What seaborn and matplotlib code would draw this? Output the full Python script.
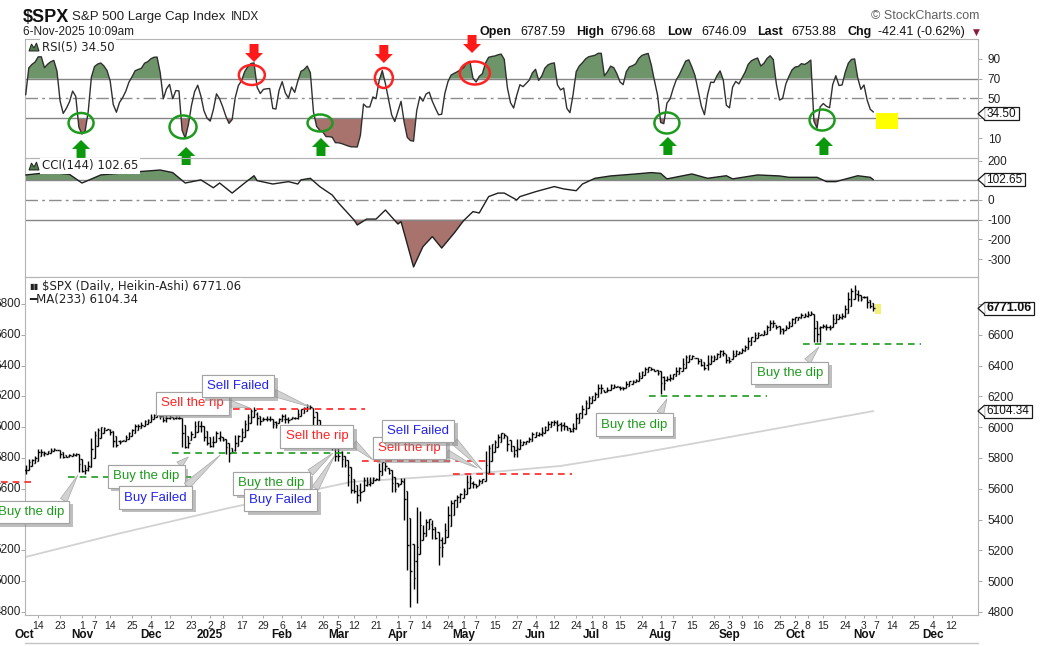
import numpy as np
import pandas as pd
import matplotlib
matplotlib.use("Agg")
import matplotlib.pyplot as plt
import seaborn as sns
from matplotlib.patches import Ellipse, Polygon, Rectangle
from matplotlib.transforms import IdentityTransform, blended_transform_factory
from matplotlib.lines import Line2D
import matplotlib.patheffects as pe

# ------------------------------------------------------------------ data
holidays = ["2024-11-28", "2024-12-25", "2025-01-01", "2025-01-09", "2025-01-20",
            "2025-02-17", "2025-04-18", "2025-05-26", "2025-06-19", "2025-07-04",
            "2025-09-01", "2025-11-27", "2025-12-25"]

# closes before the first visible bar (used only to warm up RSI / Heikin-Ashi)
warmup_closes = [5713.64, 5702.55, 5718.57, 5732.93, 5722.26, 5745.37, 5738.17,
                 5762.48, 5708.75, 5709.54, 5699.94, 5751.07, 5695.94]

c_2024_10 = [5751.13, 5792.04, 5780.05, 5815.03, 5859.85, 5815.26, 5842.47, 5841.47, 5864.67,
             5853.98, 5851.20, 5797.42, 5809.86, 5808.12, 5823.52, 5832.92, 5813.67, 5705.45]
c_2024_11 = [5728.80, 5712.69, 5782.76, 5929.04, 5973.10, 5995.54, 6001.35, 5983.99, 5985.38,
             5949.17, 5870.62, 5893.62, 5916.98, 5917.11, 5948.71, 5969.34, 5987.37, 6021.63,
             5998.74, 6032.38]
c_2024_12 = [6047.15, 6049.88, 6086.49, 6075.11, 6090.27, 6052.85, 6034.91, 6084.19, 6051.25,
             6051.09, 6074.08, 6050.61, 5872.16, 5867.08, 5930.85, 5974.07, 6040.04, 6037.59,
             5970.84, 5906.94, 5881.63]
c_2025_01 = [5868.55, 5942.47, 5975.38, 5909.03, 5918.25, 5827.04, 5836.22, 5842.91, 5949.91,
             5937.34, 5996.66, 6049.24, 6086.37, 6118.71, 6101.24, 6012.28, 6067.70, 6039.31,
             6071.17, 6040.53]
c_2025_02 = [5994.57, 6037.88, 6061.48, 6083.57, 6025.99, 6066.44, 6068.50, 6051.97, 6115.07,
             6114.63, 6129.58, 6144.15, 6117.52, 6013.13, 5983.25, 5955.25, 5956.06, 5861.57,
             5954.50]
c_2025_03 = [5849.72, 5778.15, 5842.63, 5738.52, 5770.20, 5614.56, 5572.07, 5599.30, 5521.52,
             5638.94, 5675.12, 5614.66, 5675.29, 5662.89, 5667.56, 5767.57, 5776.65, 5712.20,
             5693.31, 5580.94, 5611.85]
c_2025_04 = [5633.07, 5670.97, 5396.52, 5074.08, 5062.25, 4982.77, 5456.90, 5268.05, 5363.36,
             5405.97, 5396.63, 5275.70, 5282.70, 5158.20, 5287.76, 5375.86, 5484.77, 5525.21,
             5528.75, 5560.83, 5569.06]
c_2025_05 = [5604.14, 5686.67, 5650.38, 5606.91, 5631.28, 5663.94, 5659.91, 5844.19, 5886.55,
             5892.58, 5916.93, 5958.38, 5963.60, 5940.46, 5844.61, 5842.01, 5802.82, 5921.54,
             5888.55, 5912.17, 5911.69]
c_2025_06 = [5935.94, 5970.37, 5970.81, 5939.30, 6000.36, 6005.88, 6038.81, 6022.24, 6045.26,
             5976.97, 6033.11, 5982.72, 5980.87, 5967.84, 6025.17, 6092.18, 6092.16, 6141.02,
             6173.07, 6204.95]
c_2025_07 = [6198.01, 6227.42, 6279.35, 6229.98, 6225.52, 6263.26, 6280.46, 6259.75, 6268.56,
             6243.76, 6263.70, 6297.36, 6296.79, 6305.60, 6309.62, 6358.91, 6363.35, 6388.64,
             6389.77, 6370.86, 6362.90, 6339.39]
c_2025_08 = [6238.01, 6329.94, 6299.19, 6345.06, 6340.00, 6389.45, 6373.45, 6445.76, 6466.58,
             6468.54, 6449.80, 6449.15, 6411.37, 6395.78, 6370.17, 6466.91, 6439.32, 6465.94,
             6481.40, 6501.86, 6460.26]
c_2025_09 = [6415.54, 6448.26, 6502.08, 6481.50, 6495.15, 6512.61, 6532.04, 6587.47, 6584.29,
             6615.28, 6606.76, 6600.35, 6631.96, 6664.36, 6693.75, 6656.92, 6637.97, 6604.72,
             6643.70, 6661.21, 6688.46]
c_2025_10 = [6711.20, 6715.35, 6715.79, 6740.28, 6714.59, 6753.72, 6735.11, 6552.51, 6654.72,
             6644.31, 6671.06, 6629.07, 6664.01, 6735.13, 6735.35, 6699.40, 6738.44, 6791.69,
             6875.16, 6890.89, 6890.59, 6822.34, 6840.20]
c_2025_11 = [6851.97, 6771.55, 6796.29, 6753.88]

wick_lows = {"2024-11-04": 5696.5, "2025-01-13": 5773.3, "2025-03-13": 5504.7,
             "2025-04-07": 4835.0, "2025-04-08": 4948.0, "2025-04-09": 4856.6,
             "2025-04-21": 5101.6, "2025-08-01": 6212.7, "2025-10-10": 6550.8,
             "2025-10-14": 6552.1}
wick_highs = {"2025-01-24": 6128.2, "2025-02-19": 6147.4, "2025-04-09": 5481.3,
              "2025-10-28": 6902.0, "2025-10-29": 6920.3}

cci_dates = ["2024-10-08", "2024-10-18", "2024-10-28", "2024-11-01", "2024-11-11", "2024-11-22",
             "2024-12-09", "2024-12-13", "2024-12-19", "2024-12-27", "2025-01-03", "2025-01-07",
             "2025-01-14", "2025-01-21", "2025-01-24", "2025-01-27", "2025-02-03", "2025-02-10",
             "2025-02-13", "2025-02-14", "2025-02-20", "2025-02-25", "2025-03-03", "2025-03-05",
             "2025-03-12", "2025-03-13", "2025-03-18", "2025-03-21", "2025-03-26", "2025-04-01",
             "2025-04-02", "2025-04-08", "2025-04-11", "2025-04-16", "2025-04-22", "2025-04-28",
             "2025-05-01", "2025-05-06", "2025-05-08", "2025-05-13", "2025-05-16", "2025-05-20",
             "2025-05-27", "2025-05-28", "2025-06-04", "2025-06-12", "2025-06-17", "2025-06-24",
             "2025-06-26", "2025-07-02", "2025-07-10", "2025-07-16", "2025-07-22", "2025-07-29",
             "2025-08-01", "2025-08-05", "2025-08-15", "2025-08-22", "2025-09-02", "2025-09-04",
             "2025-09-16", "2025-09-25", "2025-09-30", "2025-10-13", "2025-10-16", "2025-10-21",
             "2025-10-30", "2025-11-05", "2025-11-06"]
cci_values = [127, 140, 130, 86, 127, 140, 152, 139, 86, 102, 62, 86, 35, 86, 123, 98,
              81, 93, 81, 102, 110, 68, 25, -15, -102, -127, -97, -97, -51, -122, -110,
              -340, -237, -186, -244, -168, -105, -59, -66, 17, 35, 35, 0, 17, 42, 68, 56,
              47, 81, 110, 122, 127, 132, 139, 135, 107, 132, 110, 123, 107, 127, 122, 115,
              115, 93, 93, 123, 115, 102.65]

ma_dates = ["2024-10-08", "2024-11-19", "2025-01-13", "2025-03-11", "2025-04-30",
            "2025-06-16", "2025-07-18", "2025-09-10", "2025-11-06"]
ma_values = [5157, 5310, 5475, 5644, 5690, 5748, 5819, 5954, 6104.34]

day_ticks = ["2024-10-14", "2024-10-23", "2024-11-01", "2024-11-07", "2024-11-14", "2024-11-25",
             "2024-12-04", "2024-12-12", "2024-12-23", "2025-01-02", "2025-01-08", "2025-01-17",
             "2025-01-29", "2025-02-06", "2025-02-14", "2025-02-26", "2025-03-05", "2025-03-12",
             "2025-03-21", "2025-04-01", "2025-04-07", "2025-04-14", "2025-04-24", "2025-05-01",
             "2025-05-07", "2025-05-15", "2025-05-27", "2025-06-04", "2025-06-12", "2025-06-24",
             "2025-07-01", "2025-07-08", "2025-07-15", "2025-07-24", "2025-08-01", "2025-08-07",
             "2025-08-15", "2025-08-26", "2025-09-03", "2025-09-09", "2025-09-16", "2025-09-25",
             "2025-10-02", "2025-10-08", "2025-10-15", "2025-10-24", "2025-11-03", "2025-11-07",
             "2025-11-14", "2025-11-25", "2025-12-04", "2025-12-12"]
month_names = {1: "2025", 2: "Feb", 3: "Mar", 4: "Apr", 5: "May", 6: "Jun", 7: "Jul",
               8: "Aug", 9: "Sep", 10: "Oct", 11: "Nov", 12: "Dec"}

rsi_levels = [10, 30, 50, 70, 90]
cci_levels = [200, 100, 0, -100, -200, -300]
price_levels = [4800, 5000, 5200, 5400, 5600, 5800, 6000, 6200, 6400, 6600, 6800]

# ------------------------------------------------------------------ styling
GREEN_F, RED_F = "#6e956a", "#a8726d"
GREEN_T, RED_T, BLUE_T = "#1e9b1e", "#ff2222", "#2424ee"
sns.set_theme(style="white")
plt.rcParams["font.family"] = ["Liberation Sans", "DejaVu Sans"]
plt.rcParams["axes.unicode_minus"] = False

W, H = 1052, 646
L, R = 25, 978
fig = plt.figure(figsize=(W / 100, H / 100), dpi=100)
fig.patch.set_facecolor("white")
ID = IdentityTransform()


def panel(top, bottom):
    ax = fig.add_axes([L / W, 1 - bottom / H, (R - L) / W, (bottom - top) / H])
    ax.set_facecolor("none")
    return ax


ax_r = panel(39, 158)
ax_c = panel(158, 277)
ax_p = panel(277, 615)
XLIM = (-0.22, 304.45)

# ------------------------------------------------------------------ calendar
dates = pd.bdate_range("2024-10-08", "2025-11-06", freq="C", holidays=holidays)
future = pd.bdate_range("2025-11-07", "2025-12-31", freq="C", holidays=holidays)
calendar = dates.append(future)
pos = {d.strftime("%Y-%m-%d"): i for i, d in enumerate(calendar)}

closes = (c_2024_10 + c_2024_11 + c_2024_12 + c_2025_01 + c_2025_02 + c_2025_03 + c_2025_04 +
          c_2025_05 + c_2025_06 + c_2025_07 + c_2025_08 + c_2025_09 + c_2025_10 + c_2025_11)
n = min(len(closes), len(dates))
closes = closes[:n]
x = np.arange(n, dtype=float)

allc = np.array(warmup_closes + closes, dtype=float)
nw = len(warmup_closes)
c = allc[nw:]
pc = allc[nw - 1:-1]

# Heikin-Ashi bars (open of a day ~ previous close)
ha_all = (allc[:-1] + allc[1:]) / 2.0          # HA close for every day after the first
ha_c = ha_all[-n:]
ha_o = np.empty_like(ha_c)
ha_o[0] = (ha_all[-n - 2] + ha_all[-n - 1]) / 2.0
for k in range(1, n):
    ha_o[k] = (ha_o[k - 1] + ha_c[k - 1]) / 2.0
ha_h = np.maximum.reduce([ha_o, ha_c, pc, c])
ha_l = np.minimum.reduce([ha_o, ha_c, pc, c])
for d, v in wick_lows.items():
    ha_l[pos[d]] = min(ha_l[pos[d]], v)
for d, v in wick_highs.items():
    ha_h[pos[d]] = max(ha_h[pos[d]], v)

# RSI(5) on the Heikin-Ashi closes, Wilder smoothing
dlt = np.diff(ha_all)
gain, loss = np.clip(dlt, 0, None), np.clip(-dlt, 0, None)
ag, al = gain[:5].mean(), loss[:5].mean()
rsi_all = []
for k in range(5, len(dlt)):
    ag = (ag * 4 + gain[k]) / 5
    al = (al * 4 + loss[k]) / 5
    rsi_all.append(100 - 100 / (1 + ag / al) if al > 0 else 100.0)
rsi = np.array(rsi_all)[-n:]

# ------------------------------------------------------------------ RSI panel
ax_r.set_xlim(*XLIM)
ax_r.set_ylim(-10, 110)
ax_r.fill_between(x, rsi, 70, where=rsi >= 70, interpolate=True, color=GREEN_F, lw=0, zorder=1)
ax_r.fill_between(x, rsi, 30, where=rsi <= 30, interpolate=True, color=RED_F, lw=0, zorder=1)
for lv in (70, 30):
    ax_r.axhline(lv, color="#858585", lw=1.0, zorder=2)
ax_r.axhline(50, color="#8c8c8c", lw=1.0, dashes=(9, 3, 2, 3), zorder=2)
sns.lineplot(x=x, y=rsi, ax=ax_r, color="#303030", linewidth=1.0, zorder=3)
ax_r.set_yticks(rsi_levels)
ax_r.set_yticklabels(["" if v == 30 else str(v) for v in rsi_levels])

# ------------------------------------------------------------------ CCI panel
cx = np.array([pos[d] for d in cci_dates], dtype=float)
cv = np.array(cci_values, dtype=float)
ax_c.set_xlim(*XLIM)
ax_c.set_ylim(-391, 213)
ax_c.fill_between(cx, cv, 100, where=cv >= 100, interpolate=True, color=GREEN_F, lw=0, zorder=1)
ax_c.fill_between(cx, cv, -100, where=cv <= -100, interpolate=True, color=RED_F, lw=0, zorder=1)
for lv in (100, -100):
    ax_c.axhline(lv, color="#858585", lw=1.0, zorder=2)
ax_c.axhline(0, color="#8c8c8c", lw=1.0, dashes=(9, 3, 2, 3), zorder=2)
sns.lineplot(x=cx, y=cv, ax=ax_c, color="#202020", linewidth=1.0, zorder=3)
ax_c.set_yticks(cci_levels)
ax_c.set_yticklabels(["" if v == 100 else str(v) for v in cci_levels])

# ------------------------------------------------------------------ price panel
ax_p.set_xlim(*XLIM)
ax_p.set_ylim(4780, 6975)
mx = np.array([pos[d] for d in ma_dates], dtype=float)
sns.lineplot(x=mx, y=ma_values, ax=ax_p, color="#d2d2d2", linewidth=1.3, zorder=1)
# highlight of the latest bar
ax_p.add_patch(Rectangle((n - 0.6, 6735), 1.9, 65, color="#f3f07a", lw=0, zorder=1.5))
ax_p.vlines(x, ha_l, ha_h, color="black", lw=1.0, zorder=3)
ax_p.hlines(ha_o, x - 0.5, x, color="black", lw=1.0, zorder=3)
ax_p.hlines(ha_c, x, x + 0.5, color="black", lw=1.0, zorder=3)
ax_p.set_yticks(price_levels)
ax_p.set_yticklabels(["" if v == 6800 else str(v) for v in price_levels])

# dashed support / resistance lines (start, end in trading-day positions, price, colour)
levels = [(-8.0, 2.0, 5645, RED_T), (13.6, 53.2, 5679, GREEN_T), (46.8, 103.7, 5830, GREEN_T),
          (66.3, 108.5, 6117, RED_T), (107.5, 147.5, 5781, RED_T), (136.6, 174.6, 5696, RED_T),
          (199.3, 237.0, 6203, GREEN_T), (248.5, 286.2, 6540, GREEN_T)]
for x0, x1, yv, col in levels:
    ax_p.plot([x0, x1], [yv, yv], color=col, lw=1.2, dashes=(4, 3), zorder=4, clip_on=False)

# callouts: text, colour, box centre, target, tail anchor on box
callouts = [
    ("Buy the dip", GREEN_T, (1.6, 5449), (16.7, 5690), (0.95, 1.0)),
    ("Buy the dip", GREEN_T, (38.5, 5680), (52.0, 5806), (0.9, 1.0)),
    ("Buy Failed", BLUE_T, (41.5, 5543), (62.2, 5819), (0.9, 1.0)),
    ("Sell the rip", RED_T, (53.2, 6154), (71.7, 6125), (1.0, 0.6)),
    ("Sell Failed", BLUE_T, (67.9, 6267), (90.9, 6131), (1.0, 0.1)),
    ("Sell the rip", RED_T, (93.1, 5940), (111.0, 5787), (1.0, 0.3)),
    ("Buy the dip", GREEN_T, (78.6, 5634), (98.2, 5832), (1.0, 1.0)),
    ("Buy Failed", BLUE_T, (81.5, 5527), (98.9, 5819), (1.0, 1.0)),
    ("Sell the rip", RED_T, (122.8, 5865), (144.3, 5735), (1.0, 0.3)),
    ("Sell Failed", BLUE_T, (125.4, 5975), (145.9, 5722), (1.0, 0.1)),
    ("Buy the dip", GREEN_T, (194.6, 6017), (205.0, 6183), (0.85, 1.0)),
    ("Buy the dip", GREEN_T, (244.3, 6352), (253.6, 6521), (0.7, 1.0)),
]
for k, (txt, col, (bx, by), (tx, ty), rel) in enumerate(callouts):
    ann = ax_p.annotate(
        txt, xy=(tx, ty), xytext=(bx, by), textcoords="data", ha="center", va="center",
        fontsize=9.5, color=col, zorder=10 + k, annotation_clip=False,
        bbox=dict(boxstyle="square,pad=0.4", fc="white", ec="#a3a3a3", lw=0.8),
        arrowprops=dict(arrowstyle="wedge,tail_width=0.55,shrink_factor=0.5",
                        fc="#d2d2d2", ec="#a8a8a8", lw=0.5, shrinkA=0, shrinkB=0,
                        relpos=rel))
    ann.get_bbox_patch().set_path_effects(
        [pe.withSimplePatchShadow(offset=(2.5, -2.5), shadow_rgbFace="#8a8a8a", alpha=0.55),
         pe.Normal()])

# ------------------------------------------------------------------ axes cosmetics
for ax in (ax_r, ax_c, ax_p):
    ax.set_xlabel("")
    ax.set_ylabel("")
    for s in ax.spines.values():
        s.set_color("#b4b4b4")
        s.set_linewidth(0.8)
    ax.tick_params(axis="y", which="major", left=False, right=True, labelleft=False,
                   labelright=True, direction="out", length=3, width=0.6, color="#9a9a9a",
                   labelsize=8.5, labelcolor="#222222", pad=4)
ax_r.set_xticks([])
ax_c.set_xticks([])
ax_p.tick_params(axis="y", left=True)
# left-hand price labels (the 5400 one sits under the first callout box, as in the original)
for v in price_levels:
    if v == 5400:
        continue
    ax_p.annotate(f"{v}", xy=(0, v), xycoords=("axes fraction", "data"), xytext=(-4, 0),
                  textcoords="offset pixels", ha="right", va="center", fontsize=8.5,
                  color="#222222", annotation_clip=False)

tick_pos = [pos[d] for d in day_ticks]
ax_p.set_xticks(tick_pos)
ax_p.set_xticklabels([str(int(d[-2:])) for d in day_ticks])
ax_p.tick_params(axis="x", bottom=True, direction="out", length=2, width=0.6, color="#9a9a9a",
                 labelsize=7.5, labelcolor="#222222", pad=2)
btrans = blended_transform_factory(ax_p.transData, ax_p.transAxes)
prev_month = None
for d in day_ticks:
    m = int(d[5:7])
    if prev_month is None:
        ax_p.text(-0.55, -0.0592, "Oct", transform=btrans, ha="center", va="center",
                  fontsize=8.5, fontweight="bold", color="#111111", clip_on=False)
    elif m != prev_month:
        ax_p.text(pos[d], -0.0592, month_names[m], transform=btrans, ha="center", va="center",
                  fontsize=8.5, fontweight="bold", color="#111111", clip_on=False)
    prev_month = m
fig.add_artist(Line2D([L, R], [H - 643, H - 643], transform=ID, color="#c4c4c4", lw=1.0))

# ------------------------------------------------------------------ RSI annotations
xpp = (XLIM[1] - XLIM[0]) / (R - L)
ypp = 120.0 / 119.0
circles = [(17.7, 25.3, 25, 20, GREEN_T), (50.3, 21.3, 27, 23, GREEN_T),
           (94.1, 25.3, 25, 17, GREEN_T), (205.0, 25.3, 25, 21, GREEN_T),
           (254.6, 28.3, 25, 21, GREEN_T), (72.3, 73.7, 26, 20, RED_T),
           (114.5, 70.7, 18, 20, RED_T), (143.6, 75.7, 30, 23, RED_T)]
for cxx, cyy, wpx, hpx, col in circles:
    ax_r.add_patch(Ellipse((cxx, cyy), wpx * xpp, hpx * ypp, fill=False, ec=col, lw=1.8,
                           zorder=6, clip_on=False))
arrow_px = [(0, 0), (9, 9), (4.5, 9), (4.5, 18), (-4.5, 18), (-4.5, 9), (-9, 9)]
arrows = [(17.7, 8.2, 1, "#0b980b"), (51.3, 1.1, 1, "#0b980b"), (94.4, 10.2, 1, "#0b980b"),
          (205.3, 11.2, 1, "#0b980b"), (255.2, 11.2, 1, "#0b980b"),
          (73.0, 86.8, -1, "#ff1a1a"), (114.5, 85.8, -1, "#ff1a1a"), (142.7, 95.9, -1, "#ff1a1a")]
for axx, tip, up, col in arrows:
    pts = [(axx + dx * xpp, tip - up * dy * ypp) for dx, dy in arrow_px]
    ax_r.add_patch(Polygon(pts, closed=True, fc=col, ec="none", zorder=7, clip_on=False))
ax_r.add_patch(Rectangle((271.8, 19.2), 7.0, 16.2, fc="#ffff00", ec="none", zorder=5,
                         clip_on=False))

# ------------------------------------------------------------------ value tags on right
renderer = fig.canvas.get_renderer()


def value_tag(ax, yval, txt, bold=False):
    ypix = ax.transData.transform((0, yval))[1]
    xl = R + 6
    t = fig.text(xl + 2.5, ypix, txt, transform=ID, ha="left", va="center",
                 fontsize=9 if bold else 8.5, fontweight="bold" if bold else "normal",
                 color="#111111", zorder=21)
    bb = t.get_window_extent(renderer=renderer)
    hh = 13
    fig.add_artist(Rectangle((xl, ypix - hh / 2), bb.width + 5, hh, transform=ID,
                             fc="white", ec="#1a1a1a", lw=0.9, zorder=19))
    fig.add_artist(Polygon([(xl + 0.8, ypix + hh / 2 - 0.5), (xl - 6, ypix),
                            (xl + 0.8, ypix - hh / 2 + 0.5)], closed=False, transform=ID,
                           fc="white", ec="#1a1a1a", lw=0.9, zorder=20))


value_tag(ax_r, 34.5, "34.50")
value_tag(ax_c, 102.65, "102.65")
value_tag(ax_p, 6771.06, "6771.06", bold=True)
value_tag(ax_p, 6104.34, "6104.34")

# ------------------------------------------------------------------ texts
def ftext(xp, row, s, **kw):
    return fig.text(xp, H - row, s, transform=ID, **kw)


ftext(23, 22, "$SPX", fontsize=13, fontweight="bold", va="baseline", color="#111111")
ftext(72, 20, "S&P 500 Large Cap Index", fontsize=9.5, va="baseline", color="#222222")
ftext(231, 20, "INDX", fontsize=8.5, va="baseline", color="#222222")
ftext(23, 32, "6-Nov-2025 10:09am", fontsize=8.5, va="center", color="#222222")
ftext(871, 16, "© StockCharts.com", fontsize=9, va="center", color="#606060")
hdr = [(480, "Open", True), (520, "6787.59", False), (576, "High", True),
       (610, "6796.68", False), (667, "Low", True), (701, "6746.09", False),
       (757, "Last", True), (791, "6753.88", False), (848, "Chg", True),
       (878, "-42.41 (-0.62%)", False)]
for xp, s, b in hdr:
    ftext(xp, 32, s, fontsize=9, va="center", fontweight="bold" if b else "normal",
          color="#111111")
ftext(973, 32, "▼", fontsize=6.5, va="center", color="#8b1a3a",
      family=["DejaVu Sans"])

lbl = dict(fontsize=8.5, va="center", color="#222222", family=["DejaVu Sans"],
           bbox=dict(boxstyle="square,pad=0.15", fc="white", ec="none"), zorder=8)
# tiny panel icons
for row in (47, 166):
    fig.add_artist(Polygon([(29, H - row - 4), (31.5, H - row + 3), (34, H - row - 1),
                            (36.5, H - row + 4), (39, H - row - 4)], closed=True,
                           transform=ID, fc="#4f7a4b", ec="#222222", lw=0.7, zorder=9))
ftext(42, 47, "RSI(5) 34.50", **lbl)
ftext(42, 166, "CCI(144) 102.65", **lbl)
ftext(29, 286.5, "▮▮", fontsize=6, va="center", color="#222222", family=["DejaVu Sans"])
ftext(42, 286.5, "$SPX (Daily, Heikin-Ashi) 6771.06", **lbl)
ftext(29, 299.5, "━MA(233) 6104.34", **lbl)

fig.savefig("out.png", dpi=100, facecolor="white")
